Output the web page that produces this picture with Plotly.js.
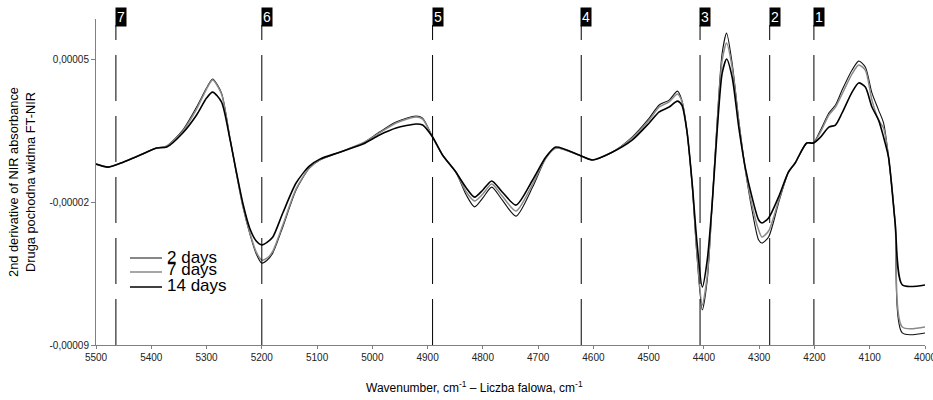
<!DOCTYPE html>
<html>
<head>
<meta charset="utf-8">
<script src="https://cdn.plot.ly/plotly-3.0.1.min.js"></script>
<style>html,body{margin:0;padding:0;background:#fff;}#chart{width:933px;height:400px;}</style>
</head>
<body>
<div id="chart"></div>
<script>
const wavenumber = [5500,5478,5450,5420,5390,5372,5343,5318,5300,5289,5273,5258,5246,5234,5222,5210,5200,5190,5180,5162,5138,5114,5095,5059,5017,4987,4957,4921,4909,4891,4873,4849,4830,4815,4800,4784,4765,4740,4710,4686,4668,4626,4602,4566,4530,4499,4481,4463,4448,4440,4431,4421,4413,4403,4394,4385,4376,4367,4359,4349,4337,4325,4313,4301,4295,4283,4265,4247,4235,4214,4202,4189,4174,4162,4150,4132,4120,4108,4096,4084,4075,4066,4054,4041,4000];

const days2 = [-0.14e-5,-0.29e-5,-0.04e-5,0.30e-5,0.64e-5,0.74e-5,1.52e-5,2.65e-5,3.58e-5,4.02e-5,3.34e-5,1.18e-5,-0.58e-5,-2.24e-5,-3.52e-5,-4.54e-5,-4.99e-5,-4.84e-5,-4.49e-5,-3.22e-5,-1.41e-5,-0.34e-5,0.06e-5,0.44e-5,0.89e-5,1.43e-5,1.92e-5,2.21e-5,2.11e-5,1.18e-5,0.30e-5,-0.53e-5,-1.66e-5,-2.24e-5,-1.80e-5,-1.27e-5,-1.90e-5,-2.69e-5,-1.27e-5,0.15e-5,0.64e-5,0.30e-5,0.06e-5,0.44e-5,1.18e-5,2.11e-5,2.75e-5,2.99e-5,3.43e-5,2.99e-5,1.52e-5,-1.27e-5,-4.49e-5,-7.29e-5,-5.82e-5,-2.05e-5,2.01e-5,5.29e-5,6.27e-5,4.80e-5,2.01e-5,-0.43e-5,-2.39e-5,-3.86e-5,-4.01e-5,-3.71e-5,-2.05e-5,-0.53e-5,-0.09e-5,0.89e-5,0.89e-5,1.52e-5,2.36e-5,2.75e-5,3.48e-5,4.46e-5,4.90e-5,4.61e-5,3.34e-5,2.50e-5,1.87e-5,0.20e-5,-3.03e-5,-8.41e-5,-8.41e-5];

const days7 = [-0.14e-5,-0.29e-5,-0.04e-5,0.30e-5,0.64e-5,0.74e-5,1.47e-5,2.55e-5,3.53e-5,3.97e-5,3.29e-5,1.18e-5,-0.58e-5,-2.24e-5,-3.47e-5,-4.45e-5,-4.84e-5,-4.74e-5,-4.40e-5,-3.13e-5,-1.36e-5,-0.34e-5,0.06e-5,0.44e-5,0.89e-5,1.38e-5,1.87e-5,2.16e-5,2.06e-5,1.18e-5,0.30e-5,-0.53e-5,-1.51e-5,-1.95e-5,-1.61e-5,-1.12e-5,-1.71e-5,-2.44e-5,-1.12e-5,0.15e-5,0.64e-5,0.30e-5,0.06e-5,0.44e-5,1.13e-5,2.01e-5,2.65e-5,2.90e-5,3.29e-5,2.94e-5,1.52e-5,-1.22e-5,-4.35e-5,-7.04e-5,-5.62e-5,-2.05e-5,1.82e-5,4.95e-5,5.78e-5,4.61e-5,1.92e-5,-0.43e-5,-2.15e-5,-3.37e-5,-3.71e-5,-3.42e-5,-1.95e-5,-0.53e-5,-0.09e-5,0.89e-5,0.89e-5,1.43e-5,2.26e-5,2.65e-5,3.29e-5,4.27e-5,4.71e-5,4.46e-5,2.99e-5,2.01e-5,1.62e-5,0.20e-5,-3.03e-5,-8.12e-5,-8.12e-5];

const days14 = [-0.14e-5,-0.29e-5,-0.04e-5,0.30e-5,0.64e-5,0.69e-5,1.38e-5,2.26e-5,3.09e-5,3.38e-5,2.90e-5,1.13e-5,-0.53e-5,-2.10e-5,-3.27e-5,-3.91e-5,-4.10e-5,-3.96e-5,-3.71e-5,-2.54e-5,-1.07e-5,-0.24e-5,0.10e-5,0.44e-5,0.84e-5,1.28e-5,1.62e-5,1.82e-5,1.77e-5,1.18e-5,0.30e-5,-0.53e-5,-1.31e-5,-1.76e-5,-1.41e-5,-0.97e-5,-1.51e-5,-2.15e-5,-0.92e-5,0.20e-5,0.69e-5,0.30e-5,0.06e-5,0.44e-5,1.03e-5,1.87e-5,2.41e-5,2.65e-5,2.94e-5,2.75e-5,1.52e-5,-1.17e-5,-3.86e-5,-6.16e-5,-4.84e-5,-2.05e-5,1.52e-5,4.31e-5,5.00e-5,4.12e-5,1.67e-5,-0.34e-5,-1.76e-5,-2.88e-5,-3.03e-5,-2.78e-5,-1.76e-5,-0.53e-5,-0.09e-5,0.89e-5,0.89e-5,1.18e-5,1.67e-5,1.77e-5,2.36e-5,3.38e-5,3.83e-5,3.63e-5,2.65e-5,2.01e-5,1.18e-5,0.20e-5,-3.03e-5,-6.06e-5,-6.06e-5];

const seriesNames = ['2 days', '7 days', '14 days'];

const bandWavenumbers = [4201, 4281, 4407, 4622, 4891, 5200, 5464];
const bandLabels = ['1', '2', '3', '4', '5', '6', '7'];

const xTickVals = [5500,5400,5300,5200,5100,5000,4900,4800,4700,4600,4500,4400,4300,4200,4100,4000];
const xTickText = ['5500','5400','5300','5200','5100','5000','4900','4800','4700','4600','4500','4400','4300','4200','4100','4000'];
const yTickVals = [-0.00009, -0.00002, 0.00005];
const yTickText = ['-0,00009', '-0,00002', '0,00005'];

const FONT = 'Arial, "Liberation Sans", sans-serif';

const styles = [
  {color: '#111111', width: 1.1},
  {color: '#8a8a8a', width: 1.5},
  {color: '#000000', width: 1.6}
];
const seriesData = [days2, days7, days14];

const traces = seriesData.map((ys, i) => ({
  type: 'scatter',
  mode: 'lines',
  name: seriesNames[i],
  x: wavenumber,
  y: ys,
  line: {color: styles[i].color, width: styles[i].width, shape: 'spline', smoothing: 0.7},
  showlegend: false
}));

const shapes = bandWavenumbers.map(w => ({
  type: 'line', xref: 'x', yref: 'paper',
  x0: w, x1: w, y0: 0, y1: 0.9816,
  line: {color: '#000000', width: 1, dash: '46px,15px'}
}));

const annotations = bandWavenumbers.map((w, i) => ({
  x: w, xref: 'x', y: 1.006, yref: 'paper',
  xanchor: 'left', yanchor: 'middle', xshift: -1,
  text: bandLabels[i], showarrow: false,
  bgcolor: '#000000', borderpad: 1,
  font: {family: FONT, size: 14, color: '#ffffff'}
}));

// in-plot legend (sample lines + labels), positioned in paper coordinates
const legendLineY = [0.2669, 0.2239, 0.1779];
const legendTextY = [0.2669, 0.2301, 0.181];
seriesNames.forEach((name, i) => {
  shapes.push({
    type: 'line', xref: 'paper', yref: 'paper',
    x0: 0.041, x1: 0.0796, y0: legendLineY[i], y1: legendLineY[i],
    line: {color: styles[i].color, width: styles[i].width}
  });
  annotations.push({
    x: 0.0832, xref: 'paper', y: legendTextY[i], yref: 'paper',
    xanchor: 'left', yanchor: 'middle', showarrow: false,
    text: name, font: {family: FONT, size: 17, color: '#000000'}
  });
});

annotations.push({
  x: 0.456, xref: 'paper', y: -0.129, yref: 'paper',
  xanchor: 'center', yanchor: 'middle', showarrow: false,
  text: 'Wavenumber, cm<sup>-1</sup> – Liczba falowa, cm<sup>-1</sup>',
  font: {family: FONT, size: 12, color: '#000000'}
});

const layout = {
  width: 933, height: 400,
  margin: {l: 96, r: 8, t: 19, b: 55},
  paper_bgcolor: '#ffffff', plot_bgcolor: '#ffffff',
  showlegend: false,
  xaxis: {
    range: [5500, 4000], autorange: false,
    tickmode: 'array', tickvals: xTickVals, ticktext: xTickText,
    ticks: 'outside', ticklen: 3, tickcolor: '#808080',
    ticklabeloverflow: 'allow',
    showline: true, linecolor: '#808080', linewidth: 1,
    showgrid: false, zeroline: false,
    tickfont: {family: FONT, size: 10, color: '#222222'}
  },
  yaxis: {
    range: [-0.00009, 0.0000696], autorange: false,
    tickmode: 'array', tickvals: yTickVals, ticktext: yTickText,
    ticks: 'outside', ticklen: 4, tickcolor: '#808080',
    showline: true, linecolor: '#808080', linewidth: 1,
    showgrid: false, zeroline: false,
    tickfont: {family: FONT, size: 10, color: '#222222'},
    title: {
      text: '2nd derivative of NIR absorbance<br>Druga pochodna widma FT-NIR',
      font: {family: FONT, size: 12.8, color: '#000000'},
      standoff: 11
    }
  },
  shapes: shapes,
  annotations: annotations
};

Plotly.newPlot('chart', traces, layout, {displayModeBar: false, staticPlot: true});
</script>
</body>
</html>
